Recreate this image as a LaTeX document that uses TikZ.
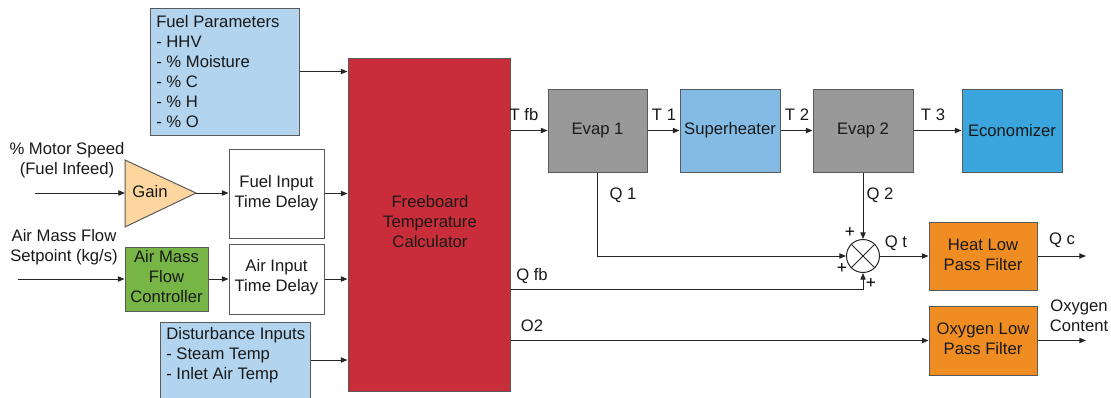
\documentclass[tikz,border=0pt]{standalone}
\usepackage{fontspec}
\setmainfont{Liberation Sans}
\usetikzlibrary{arrows.meta,fit,shapes.geometric}

\definecolor{fuelblue}{HTML}{B2D4EF}
\definecolor{gainfill}{HTML}{FCD69E}
\definecolor{ctrlgreen}{HTML}{77B646}
\definecolor{calcred}{HTML}{C92D39}
\definecolor{evapgrey}{HTML}{999999}
\definecolor{shblue}{HTML}{83BBE5}
\definecolor{ecoblue}{HTML}{3AA6DD}
\definecolor{filtorange}{HTML}{EF8D22}
\definecolor{edge}{HTML}{5A5A5A}
\definecolor{wire}{HTML}{262626}

\tikzset{
  txt/.style={font=\fontsize{12.5}{15}\selectfont, text=black!90, inner sep=0pt},
  blk/.style={draw=edge, line width=0.75pt, inner sep=0pt},
  conn/.style={draw=wire, line width=0.75pt, -{Triangle[length=5pt,width=4pt]}},
  wireline/.style={draw=wire, line width=0.75pt},
  small/.style={font=\fontsize{13}{14}\selectfont, inner sep=0pt},
}

\begin{document}
\begin{tikzpicture}[x=0.75pt,y=-0.75pt]
\useasboundingbox (0,0) rectangle (1111,397);

% ---- input side -------------------------------------------------
\node[blk, fill=fuelblue, fit={(150,8)(299,135)}] (fuel) {};
\node[txt, anchor=west, align=left] (fueltxt) at (156,71.5)
  {Fuel Parameters\\- HHV\\- \% Moisture\\- \% C\\- \% H\\- \% O};

\node[txt, align=center] (motor) at (67,160) {\% Motor Speed\\(Fuel Infeed)};
\coordinate (motorin) at (35,193);
\coordinate (gainin) at (125,193);
\coordinate (gainout) at (196,193);
\draw[draw=edge, line width=0.75pt, fill=gainfill] (125,160) -- (gainout) -- (125,227) -- cycle;
\node[txt] (gaintxt) at (150,192) {Gain};

\node[blk, fill=white, fit={(229,149)(324,238)}] (ftd) {};
\node[txt, align=center] (ftdtxt) at (ftd.center) {Fuel Input\\Time Delay};

\node[txt, align=center] (airsp) at (64,247) {Air Mass Flow\\Setpoint (kg/s)};
\coordinate (airin) at (18,279);
\node[blk, fill=ctrlgreen, fit={(125,247)(208,311)}] (amfc) {};
\node[txt, align=center] (amfctxt) at ([yshift=1.5pt]amfc.center) {Air Mass\\Flow\\Controller};
\node[blk, fill=white, fit={(229,244)(324,314)}] (aitd) {};
\node[txt, align=center] (aitdtxt) at ([yshift=1.5pt]aitd.center) {Air Input\\Time Delay};

\node[blk, fill=fuelblue, fit={(160,322)(310,398)}] (dist) {};
\node[txt, anchor=west, align=left] (disttxt) at (166,355)
  {Disturbance Inputs\\- Steam Temp\\- Inlet Air Temp};

% ---- calculator -------------------------------------------------
\node[blk, fill=calcred, fit={(348,58)(510,391)}] (calc) {};
\node[txt, align=center] (calctxt) at (430,222) {Freeboard\\Temperature\\Calculator};

% ---- heat exchanger chain ---------------------------------------
\node[blk, fill=evapgrey, fit={(548,89)(647,172)}] (evap1) {};
\node[txt] (evap1txt) at (evap1.center) {Evap 1};
\node[blk, fill=shblue, fit={(680,89)(780,172)}] (sh) {};
\node[txt] (shtxt) at (sh.center) {Superheater};
\node[blk, fill=evapgrey, fit={(813,89)(913,172)}] (evap2) {};
\node[txt] (evap2txt) at (evap2.center) {Evap 2};
\node[blk, fill=ecoblue, fit={(962,89)(1062,172)}] (eco) {};
\node[txt] (ecotxt) at (eco.center) {Economizer};

% ---- summing junction and filters -------------------------------
\node[circle, draw=wire, line width=0.75pt, fill=white, minimum size=24.75pt, inner sep=0pt] (sum) at (863,256) {};
\draw[wireline] (sum.north west) -- (sum.south east);
\draw[wireline] (sum.north east) -- (sum.south west);

\node[blk, fill=filtorange, fit={(929,222)(1037,290)}] (hlpf) {};
\node[txt, align=center] (hlpftxt) at ([yshift=0.75pt]hlpf.center) {Heat Low\\Pass Filter};
\node[blk, fill=filtorange, fit={(929,306)(1037,375)}] (olpf) {};
\node[txt, align=center] (olpftxt) at ([yshift=1.5pt]olpf.center) {Oxygen Low\\Pass Filter};
\coordinate (qcout) at (1086,256);
\coordinate (oxout) at (1086,340);
\coordinate (qfbrow) at (0,289);

% ---- connectors -------------------------------------------------
\draw[conn] (motorin) -- (gainin);
\draw[conn] (gainout) -- (gainout -| ftd.west);
\draw[conn] (ftd.east) -- (ftd.east -| calc.west);
\draw[conn] (fuel.east) -- (fuel.east -| calc.west);
\draw[conn] (airin) -- (airin -| amfc.west);
\draw[conn] (amfc.east) -- (amfc.east -| aitd.west);
\draw[conn] (aitd.east) -- (aitd.east -| calc.west);
\draw[conn] (dist.east) -- (dist.east -| calc.west);

\draw[conn] (calc.east |- evap1.west) -- (evap1.west);
\draw[conn] (evap1.east) -- (sh.west);
\draw[conn] (sh.east) -- (evap2.west);
\draw[conn] (evap2.east) -- (eco.west);

\draw[conn] (evap1.south) |- (sum.west);
\draw[conn] (evap2.south) -- (sum.north);
\draw[conn] (calc.east |- qfbrow) -| (sum.south);
\draw[conn] (sum.east) -- (sum.east -| hlpf.west);
\draw[conn] (hlpf.east) -- (hlpf.east -| qcout);
\draw[conn] (calc.east |- olpf.west) -- (olpf.west);
\draw[conn] (olpf.east) -- (olpf.east -| oxout);

% ---- signal labels ----------------------------------------------
\node[txt] (ltfb) at (524,115) {T fb};
\node[txt] (lt1) at (664,115) {T 1};
\node[txt] (lt2) at (797,115) {T 2};
\node[txt] (lt3) at (933,115) {T 3};
\node[txt] (lq1) at (623,195) {Q 1};
\node[txt] (lq2) at (880,195) {Q 2};
\node[txt] (lqfb) at (532,276) {Q fb};
\node[txt] (lo2) at (532,326) {O2};
\node[txt] (lqt) at (896,243) {Q t};
\node[txt] (lqc) at (1062,240) {Q c};
\node[txt, align=center] (loxy) at (1079,316) {Oxygen\\Content};
\node[small] (p1) at (850,232) {+};
\node[small] (p2) at (842,268) {+};
\node[small] (p3) at (871,283) {+};
\end{tikzpicture}
\end{document}
